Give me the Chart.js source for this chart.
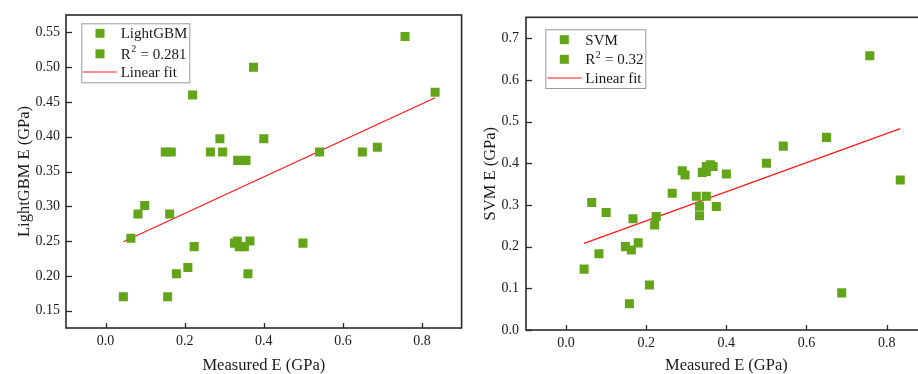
<!DOCTYPE html>
<html>
<head>
<meta charset="utf-8">
<script src="https://cdn.jsdelivr.net/npm/chart.js@4.4.0/dist/chart.umd.min.js"></script>
<style>
  html, body { margin: 0; padding: 0; background: #fff; overflow: hidden; }
  body { width: 918px; height: 374px; position: relative; }
  .panel { position: absolute; top: 0; height: 374px; }
  #left { left: 0; width: 468px; }
  #right { left: 460px; width: 474px; }
</style>
</head>
<body>
<div class="panel" id="left"><canvas id="gbm" width="468" height="374"></canvas></div>
<div class="panel" id="right"><canvas id="svm" width="474" height="374"></canvas></div>
<script>
// measured vs predicted modulus, LightGBM
const gbmMeasured = [0.045, 0.064, 0.082, 0.099, 0.151, 0.157, 0.162, 0.166, 0.179, 0.208, 0.220, 0.224, 0.265, 0.289, 0.296, 0.326, 0.333, 0.334, 0.338, 0.351, 0.355, 0.360, 0.365, 0.374, 0.400, 0.499, 0.541, 0.649, 0.687, 0.757, 0.833];
const gbmPredicted = [0.170, 0.254, 0.289, 0.301, 0.378, 0.170, 0.289, 0.378, 0.203, 0.212, 0.460, 0.242, 0.378, 0.397, 0.378, 0.247, 0.250, 0.366, 0.242, 0.242, 0.366, 0.203, 0.250, 0.500, 0.397, 0.247, 0.378, 0.378, 0.385, 0.544, 0.464];
const gbmFitX = [0.045, 0.833];
const gbmFitY = [0.249, 0.456];
const gbmR2 = 'R\u00B2 = 0.281';

// measured vs predicted modulus, SVM
const svmMeasured = [0.045, 0.064, 0.082, 0.100, 0.148, 0.158, 0.163, 0.167, 0.180, 0.208, 0.221, 0.225, 0.265, 0.290, 0.297, 0.325, 0.333, 0.333, 0.340, 0.350, 0.350, 0.350, 0.360, 0.367, 0.375, 0.400, 0.500, 0.542, 0.650, 0.688, 0.758, 0.834];
const svmPredicted = [0.146, 0.306, 0.183, 0.282, 0.200, 0.063, 0.192, 0.267, 0.209, 0.108, 0.252, 0.272, 0.328, 0.382, 0.372, 0.321, 0.297, 0.274, 0.378, 0.321, 0.380, 0.392, 0.396, 0.392, 0.296, 0.374, 0.400, 0.441, 0.462, 0.089, 0.658, 0.360];
const svmFitX = [0.045, 0.834];
const svmFitY = [0.208, 0.483];
const svmR2 = 'R\u00B2 = 0.32';

const xTicks = [0.0, 0.2, 0.4, 0.6, 0.8];
const gbmYTicks = [0.15, 0.20, 0.25, 0.30, 0.35, 0.40, 0.45, 0.50, 0.55];
const svmYTicks = [0.0, 0.1, 0.2, 0.3, 0.4, 0.5, 0.6, 0.7];

const GREEN = '#63a519';
const RED = '#ff1a1a';
const INK = '#1a1a1a';
const SERIF = "'Liberation Serif', 'Times New Roman', serif";

Chart.defaults.font.family = SERIF;
Chart.defaults.color = INK;

function pairs(xs, ys) {
  return xs.map((x, i) => ({ x: x, y: ys[i] }));
}

// closed frame around the plot area with short inward tick marks
const frameTicks = {
  id: 'frameTicks',
  afterDatasetsDraw(chart) {
    const ctx = chart.ctx;
    const a = chart.chartArea;
    const xs = chart.scales.x, ys = chart.scales.y;
    ctx.save();
    ctx.strokeStyle = '#2a2a2a';
    ctx.lineWidth = 1.3;
    xs.ticks.forEach(t => {
      const px = Math.round(xs.getPixelForValue(t.value)) + 0.5;
      ctx.beginPath();
      ctx.moveTo(px, a.bottom);
      ctx.lineTo(px, a.bottom - 5);
      ctx.stroke();
    });
    ys.ticks.forEach(t => {
      const py = Math.round(ys.getPixelForValue(t.value)) + 0.5;
      ctx.beginPath();
      ctx.moveTo(a.left, py);
      ctx.lineTo(a.left + 6, py);
      ctx.stroke();
    });
    ctx.lineWidth = 1.6;
    ctx.strokeRect(a.left, a.top, a.right - a.left, a.bottom - a.top);
    ctx.restore();
  }
};

// legend text, with a '²' drawn as a small raised 2
function drawLabel(ctx, text, x, y) {
  const parts = text.split('\u00B2');
  ctx.font = '15px ' + SERIF;
  ctx.fillText(parts[0], x, y);
  if (parts.length < 2) return;
  x += ctx.measureText(parts[0]).width + 0.5;
  ctx.font = '10px ' + SERIF;
  ctx.fillText('2', x, y - 5);
  x += ctx.measureText('2').width + 0.5;
  ctx.font = '15px ' + SERIF;
  ctx.fillText(parts[1], x, y);
}

// boxed legend sitting inside the top-left corner of the plot area
const boxLegend = {
  id: 'boxLegend',
  afterDraw(chart, args, opts) {
    const ctx = chart.ctx;
    const a = chart.chartArea;
    const bx = a.left + opts.left, by = a.top + opts.top;
    ctx.save();
    ctx.strokeStyle = '#9a9a9a';
    ctx.lineWidth = 1;
    ctx.strokeRect(bx + 0.5, by + 0.5, opts.width, opts.height);
    ctx.textBaseline = 'middle';
    chart.data.datasets.forEach((ds, i) => {
      const ry = by + opts.rows[i];
      if (ds.type === 'line') {
        ctx.strokeStyle = RED;
        ctx.lineWidth = 1.2;
        ctx.beginPath();
        ctx.moveTo(bx + opts.lineFrom, ry);
        ctx.lineTo(bx + opts.lineTo, ry);
        ctx.stroke();
      } else {
        ctx.fillStyle = GREEN;
        ctx.fillRect(bx + opts.symbolX - 4.5, ry - 4.5, 9, 9);
      }
      ctx.fillStyle = INK;
      drawLabel(ctx, ds.label, bx + opts.textX, ry + 1);
    });
    ctx.restore();
  }
};

function makeChart(id, cfg) {
  return new Chart(document.getElementById(id), {
    type: 'scatter',
    data: {
      datasets: [{
        label: cfg.name,
        data: pairs(cfg.mx, cfg.my),
        pointStyle: 'rect',
        pointRadius: 6.4,
        pointHoverRadius: 6.4,
        backgroundColor: GREEN,
        borderColor: GREEN,
        borderWidth: 0
      }, {
        label: cfg.r2,
        data: []
      }, {
        type: 'line',
        label: 'Linear fit',
        data: pairs(cfg.fx, cfg.fy),
        borderColor: RED,
        borderWidth: 1.3,
        pointRadius: 0,
        fill: false
      }]
    },
    options: {
      responsive: false,
      animation: false,
      layout: { padding: cfg.padding },
      plugins: {
        legend: { display: false },
        tooltip: { enabled: false },
        boxLegend: cfg.legend
      },
      scales: {
        x: {
          type: 'linear',
          min: -0.1,
          max: 0.9,
          afterBuildTicks: s => { s.ticks = xTicks.map(v => ({ value: v })); },
          afterFit: s => { s.height = cfg.xHeight; },
          grid: { display: false, drawTicks: false },
          border: { display: false },
          ticks: {
            padding: 5,
            maxRotation: 0,
            font: { size: 14 },
            callback: v => v.toFixed(1)
          },
          title: {
            display: true,
            text: 'Measured E (GPa)',
            font: { size: 16.5, lineHeight: 1 },
            padding: { top: 0, bottom: 0 }
          }
        },
        y: {
          type: 'linear',
          min: cfg.yMin,
          max: cfg.yMax,
          afterBuildTicks: s => { s.ticks = cfg.yTicks.map(v => ({ value: v })); },
          afterFit: s => { s.width = 66; },
          grid: { display: false, drawTicks: false },
          border: { display: false },
          ticks: {
            padding: cfg.yPad,
            font: { size: 14 },
            callback: v => v.toFixed(cfg.yDigits)
          },
          title: {
            display: true,
            text: cfg.yTitle,
            font: { size: 16.5, lineHeight: 1 },
            padding: { top: cfg.yTitlePad, bottom: 0 }
          }
        }
      }
    },
    plugins: [frameTicks, boxLegend]
  });
}

makeChart('gbm', {
  name: 'LightGBM', r2: gbmR2,
  mx: gbmMeasured, my: gbmPredicted, fx: gbmFitX, fy: gbmFitY,
  yMin: 0.125, yMax: 0.575, yTicks: gbmYTicks, yDigits: 2,
  yTitle: 'LightGBM E (GPa)', yTitlePad: 16.75, yPad: 6,
  padding: { left: 0, right: 6, top: 15, bottom: 0 },
  xHeight: 46,
  legend: { left: 15.3, top: 8.3, width: 108, height: 59, rows: [10, 30.5, 48.7], symbolX: 18.7, textX: 39.4, lineFrom: 1.4, lineTo: 35.4 }
});

makeChart('svm', {
  name: 'SVM', r2: svmR2,
  mx: svmMeasured, my: svmPredicted, fx: svmFitX, fy: svmFitY,
  yMin: 0, yMax: 0.75, yTicks: svmYTicks, yDigits: 1,
  yTitle: 'SVM E (GPa)', yTitlePad: 22.4, yPad: 7,
  padding: { left: 0, right: 7.3, top: 17.3, bottom: 0 },
  xHeight: 44,
  legend: { left: 19.3, top: 12, width: 100, height: 58.7, rows: [10.4, 30, 48.7], symbolX: 19, textX: 40, lineFrom: 2, lineTo: 36.4 }
});
</script>
</body>
</html>
